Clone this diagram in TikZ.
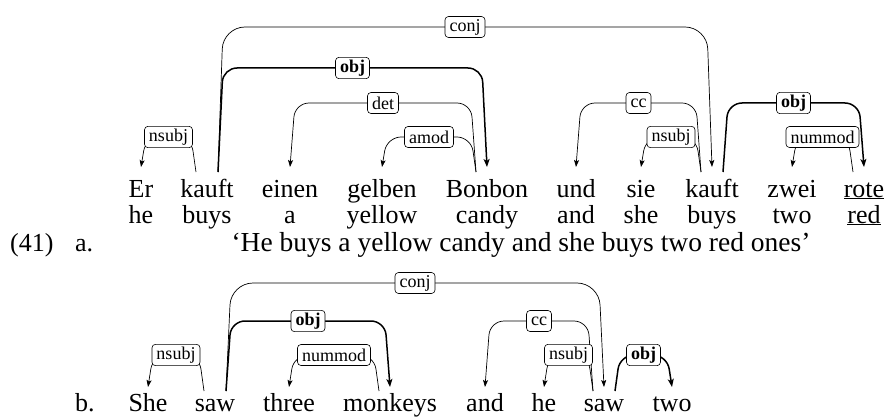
\documentclass[tikz,border=0pt]{standalone}
\usepackage{fontspec}
\setmainfont{Liberation Serif}
\usetikzlibrary{arrows.meta}
\newcommand\wordfont{\fontsize{26}{26}\selectfont}
\newcommand\transfont{\fontsize{27.5}{27.5}\selectfont}
\newcommand\labfont{\fontsize{18}{18}\selectfont}
% #1 style, #2 head, #3 dependent, #4 row, #5 level, #6 label, #7 label name, #8 direction (+1 dep right, -1 dep left)
\newcommand\depedge[8]{%
  \draw[#1] ([xshift={11*(#8)}]#2.center |- s#4)
    -- ([xshift={16*(#8)}]#2.center |- 0,#5)
    -- ([xshift={-5*(#8)}]#3.center |- 0,#5) node[lab,midway] (#7) {#6}
    -- (#3.center |- t#4);}
\begin{document}
\begin{tikzpicture}[x=1pt,y=-1pt,
  w/.style={anchor=base,font=\wordfont,inner sep=0pt},
  wl/.style={anchor=base west,font=\wordfont,inner sep=0pt},
  lab/.style={draw,fill=white,rounded corners=3.5pt,line width=0.6pt,font=\labfont,inner xsep=4.5pt,inner ysep=2.5pt,minimum height=21pt},
  dep/.style={line width=0.7pt,rounded corners=14pt,-{Stealth[length=7pt,width=5pt,inset=1.5pt]}},
  depc/.style={dep,rounded corners=22pt},
  depb/.style={dep,line width=1.5pt,-{Stealth[length=8pt,width=6pt,inset=2pt]}}]
\useasboundingbox (0,0) rectangle (886,417);
\coordinate (sa) at (0,172); \coordinate (ta) at (0,167);
\coordinate (sb) at (0,391); \coordinate (tb) at (0,387);
% row a words
\node[w] (a1) at (141,197) {Er};
\node[w] (a2) at (207,197) {kauft};
\node[w] (a3) at (290,197) {einen};
\node[w] (a4) at (382,197) {gelben};
\node[w] (a5) at (487,197) {Bonbon};
\node[w] (a6) at (576,197) {und};
\node[w] (a7) at (641,197) {sie};
\node[w] (a8) at (712,197) {kauft};
\node[w] (a9) at (792,197) {zwei};
\node[w] (a10) at (864,197) {\underline{rote}};
% glosses
\node[w] (g1) at (141,223) {he};
\node[w] (g2) at (207,223) {buys};
\node[w] (g3) at (290,223) {a};
\node[w] (g4) at (382,223) {yellow};
\node[w] (g5) at (487,223) {candy};
\node[w] (g6) at (576,223) {and};
\node[w] (g7) at (641,223) {she};
\node[w] (g8) at (712,223) {buys};
\node[w] (g9) at (792,223) {two};
\node[w] (g10) at (864,223) {\underline{red}};
\node[wl] (num) at (10,251) {(41)};
\node[wl] (la) at (75,251) {a.};
\node[w,font=\transfont] (tr) at (521,251) {‘He buys a yellow candy and she buys two red ones’};
% row b words
\node[wl] (lb) at (75,411) {b.};
\node[w] (b1) at (148,411) {She};
\node[w] (b2) at (215,411) {saw};
\node[w] (b3) at (289,411) {three};
\node[w] (b4) at (390,411) {monkeys};
\node[w] (b5) at (485,411) {and};
\node[w] (b6) at (544,411) {he};
\node[w] (b7) at (604,411) {saw};
\node[w] (b8) at (672,411) {two};
% row a edges
\depedge{depc}{a2}{a8}{a}{27}{conj}{la1}{1}
\depedge{depb}{a2}{a5}{a}{68}{\textbf{obj}}{la2}{1}
\depedge{dep}{a2}{a1}{a}{137}{nsubj}{la3}{-1}
\depedge{dep}{a5}{a3}{a}{103}{det}{la4}{-1}
\depedge{dep}{a5}{a4}{a}{137}{amod}{la5}{-1}
\depedge{dep}{a8}{a6}{a}{103}{cc}{la6}{-1}
\depedge{dep}{a8}{a7}{a}{137}{nsubj}{la7}{-1}
\depedge{depb}{a8}{a10}{a}{103}{\textbf{obj}}{la8}{1}
\depedge{dep}{a10}{a9}{a}{137}{nummod}{la9}{-1}
% row b edges
\depedge{depc}{b2}{b7}{b}{283}{conj}{lb1}{1}
\depedge{depb}{b2}{b4}{b}{321}{\textbf{obj}}{lb2}{1}
\depedge{dep}{b2}{b1}{b}{355}{nsubj}{lb3}{-1}
\depedge{dep}{b4}{b3}{b}{355}{nummod}{lb4}{-1}
\depedge{dep}{b7}{b5}{b}{321}{cc}{lb5}{-1}
\depedge{dep}{b7}{b6}{b}{355}{nsubj}{lb6}{-1}
\depedge{depb}{b7}{b8}{b}{355}{\textbf{obj}}{lb7}{1}
\end{tikzpicture}
\end{document}
